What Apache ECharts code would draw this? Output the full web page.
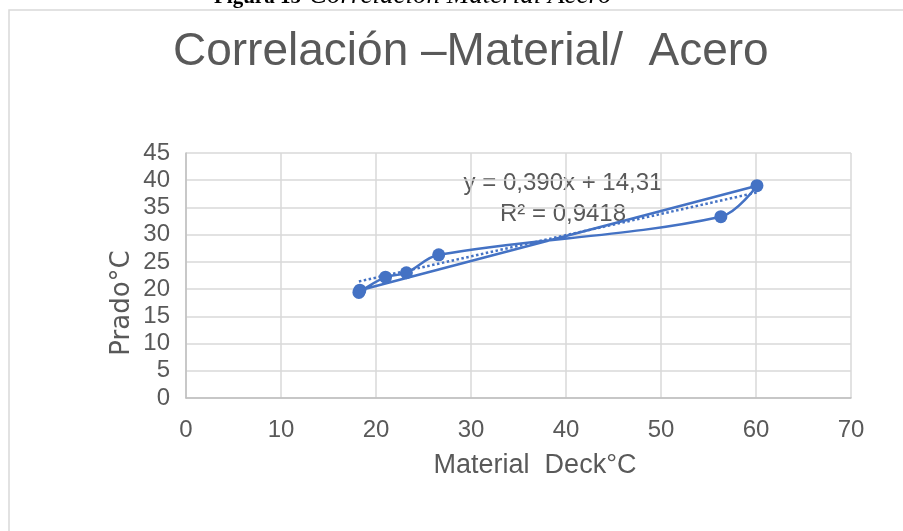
<!DOCTYPE html>
<html>
<head>
<meta charset="utf-8">
<script src="https://cdn.jsdelivr.net/npm/echarts@6/dist/echarts.min.js"></script>
<style>
html,body{margin:0;padding:0;background:#fff;}
#chart{width:903px;height:531px;}
</style>
</head>
<body>
<div id="chart"></div>
<script>
// Data (series order as drawn in the reference)
const materialDeck = [18.2, 21.0, 23.2, 26.6, 56.3, 60.1, 18.3];
const prado        = [19.4, 22.2, 23.0, 26.3, 33.3, 39.0, 19.8];
const trendSlope = 0.390;
const trendIntercept = 14.31;
const xTicks = [0, 10, 20, 30, 40, 50, 60, 70];
const yTicks = [0, 5, 10, 15, 20, 25, 30, 35, 40, 45];
const titleText = 'Correlación –Material/  Acero';
const xName = 'Material  Deck°C';
const yName = 'Prado°C';
const eqText = 'y = 0,390x + 14,31';
const r2Text = 'R² = 0,9418';
const figLabel = 'Figura 15';
const figCaption = 'Correlación Material Acero';

const points = materialDeck.map((x, i) => [x, prado[i]]);
const xMin = Math.min(...materialDeck), xMax = Math.max(...materialDeck);
const trend = [[xMin, trendSlope * xMin + trendIntercept], [xMax, trendSlope * xMax + trendIntercept]];

const chart = echarts.init(document.getElementById('chart'));
const textColor = '#595959';
const blue = '#4472C4';
chart.setOption({
  animation: false,
  backgroundColor: '#fff',
  title: {
    text: titleText, left: 168, top: 24,
    textStyle: {fontFamily: 'Liberation Sans', fontWeight: 'normal', fontSize: 46, color: textColor}
  },
  grid: {left: 186, right: 52, top: 153, bottom: 133},
  xAxis: {
    type: 'value', min: xTicks[0], max: xTicks[xTicks.length-1], interval: 10,
    axisLine: {show: true, lineStyle: {color: '#bfbfbf', width: 1.5}},
    axisTick: {show: false},
    axisLabel: {fontFamily: 'Liberation Sans', fontSize: 24, color: textColor, margin: 20},
    splitLine: {show: true, lineStyle: {color: '#d9d9d9', width: 1.5}}
  },
  yAxis: {
    type: 'value', min: yTicks[0], max: yTicks[yTicks.length-1], interval: 5,
    axisLine: {show: true, lineStyle: {color: '#bfbfbf', width: 1.5}},
    axisTick: {show: false},
    axisLabel: {fontFamily: 'Liberation Sans', fontSize: 24, color: textColor, margin: 16},
    splitLine: {show: true, lineStyle: {color: '#d9d9d9', width: 1.5}}
  },
  series: [
    {
      type: 'line', data: points, smooth: 0.35,
      symbol: 'circle', symbolSize: 13,
      lineStyle: {color: blue, width: 2.5},
      itemStyle: {color: blue},
      z: 3
    },
    {
      type: 'line', data: trend, symbol: 'none',
      lineStyle: {color: blue, width: 2.5, type: [2.5, 2.5]},
      z: 2
    }
  ],
  graphic: [
    {type: 'rect', shape: {x: 9, y: 10, width: 900, height: 530}, style: {fill: 'none', stroke: '#d9d9d9', lineWidth: 1.5}, silent: true},
    {type: 'text', x: 214, y: 8, style: {text: figLabel, font: 'bold 21px "Liberation Serif"', fill: '#000', textVerticalAlign: 'bottom'}},
    {type: 'text', x: 309, y: 9, style: {text: figCaption, font: 'italic 27px "Liberation Serif"', fill: '#000', textVerticalAlign: 'bottom'}},
    {type: 'text', x: 535, y: 466, style: {text: xName, font: '27px "Liberation Sans"', fill: textColor, textAlign: 'center', textVerticalAlign: 'middle'}},
    {type: 'text', x: 122, y: 303, rotation: Math.PI / 2, style: {text: yName, font: '26px "DejaVu Sans"', fill: textColor, textAlign: 'center', textVerticalAlign: 'middle'}},
    {type: 'text', x: 563, y: 183, style: {text: eqText, font: '24px "Liberation Sans"', fill: textColor, textAlign: 'center', textVerticalAlign: 'middle'}},
    {type: 'text', x: 563, y: 214, style: {text: r2Text, font: '24px "Liberation Sans"', fill: textColor, textAlign: 'center', textVerticalAlign: 'middle'}}
  ]
});
</script>
</body>
</html>
